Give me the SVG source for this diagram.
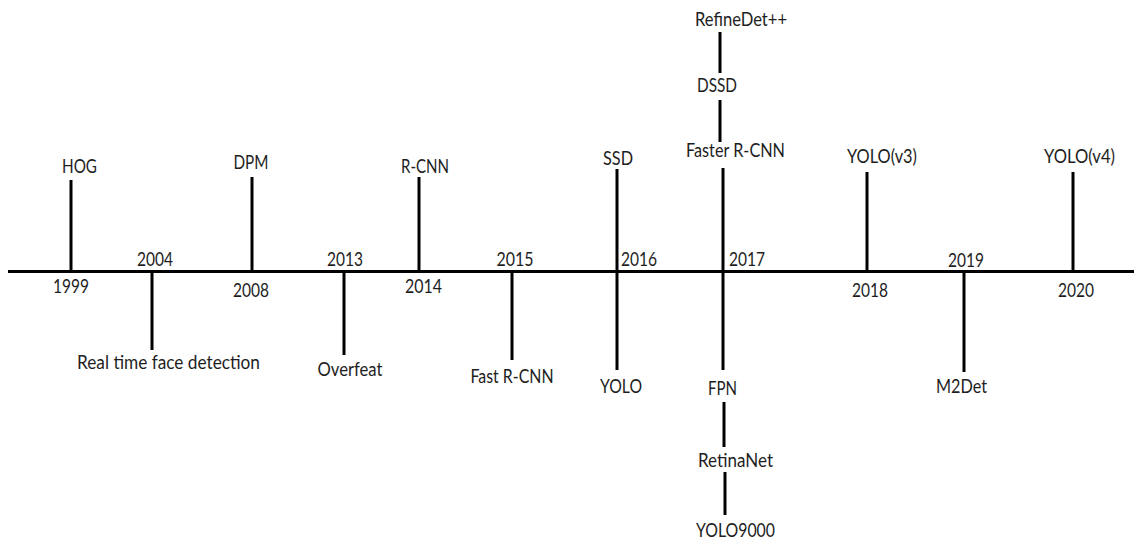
<svg xmlns="http://www.w3.org/2000/svg" width="1134" height="539" viewBox="0 0 1134 539">
  <style>
    .ln { stroke: #000; stroke-width: 3; fill: none; }
    text { font-family: Lato, "Liberation Sans", sans-serif; font-size: 18.5px; fill: #1e1e1e; text-anchor: middle; }
    .l { text-anchor: start; }
  </style>
  <rect width="1134" height="539" fill="#fff"/>

  <!-- axis and stems -->
  <g id="connectors">
    <line class="ln" x1="8" y1="271.5" x2="1134" y2="271.5"/>
    <line class="ln" x1="71" y1="180" x2="71" y2="272"/>
    <line class="ln" x1="152" y1="271" x2="152" y2="350"/>
    <line class="ln" x1="252" y1="177" x2="252" y2="272"/>
    <line class="ln" x1="344" y1="271" x2="344" y2="355"/>
    <line class="ln" x1="419" y1="177" x2="419" y2="272"/>
    <line class="ln" x1="512" y1="271" x2="512" y2="360"/>
    <line class="ln" x1="617" y1="169" x2="617" y2="370"/>
    <line class="ln" x1="720" y1="32" x2="720" y2="73"/>
    <line class="ln" x1="720" y1="100" x2="720" y2="142"/>
    <line class="ln" x1="723" y1="168" x2="723" y2="370"/>
    <line class="ln" x1="724" y1="402" x2="724" y2="447"/>
    <line class="ln" x1="725" y1="472" x2="725" y2="515"/>
    <line class="ln" x1="867" y1="172" x2="867" y2="272"/>
    <line class="ln" x1="964" y1="271" x2="964" y2="372"/>
    <line class="ln" x1="1073" y1="172" x2="1073" y2="272"/>
  </g>

  <g id="y1999">
    <text x="79.5" y="173" textLength="35" lengthAdjust="spacingAndGlyphs">HOG</text>
    <text x="71" y="293" textLength="36" lengthAdjust="spacingAndGlyphs">1999</text>
  </g>
  <g id="y2004">
    <text x="155" y="266" textLength="36" lengthAdjust="spacingAndGlyphs">2004</text>
    <text x="168.5" y="369" textLength="183" lengthAdjust="spacingAndGlyphs">Real time face detection</text>
  </g>
  <g id="y2008">
    <text x="251" y="169" textLength="35" lengthAdjust="spacingAndGlyphs">DPM</text>
    <text x="251" y="297" textLength="36" lengthAdjust="spacingAndGlyphs">2008</text>
  </g>
  <g id="y2013">
    <text x="345" y="266" textLength="36" lengthAdjust="spacingAndGlyphs">2013</text>
    <text x="350" y="375.5" textLength="65" lengthAdjust="spacingAndGlyphs">Overfeat</text>
  </g>
  <g id="y2014">
    <text x="425" y="173" textLength="48" lengthAdjust="spacingAndGlyphs">R-CNN</text>
    <text x="423.5" y="293" textLength="37" lengthAdjust="spacingAndGlyphs">2014</text>
  </g>
  <g id="y2015">
    <text x="515" y="266" textLength="37" lengthAdjust="spacingAndGlyphs">2015</text>
    <text x="512" y="383" textLength="83" lengthAdjust="spacingAndGlyphs">Fast R-CNN</text>
  </g>
  <g id="y2016">
    <text x="618" y="165" textLength="30" lengthAdjust="spacingAndGlyphs">SSD</text>
    <text class="l" x="621" y="266" textLength="36" lengthAdjust="spacingAndGlyphs">2016</text>
    <text x="621" y="393" textLength="42" lengthAdjust="spacingAndGlyphs">YOLO</text>
  </g>
  <g id="y2017">
    <text x="741" y="26" textLength="92" lengthAdjust="spacingAndGlyphs">RefineDet++</text>
    <text x="717" y="92" textLength="40" lengthAdjust="spacingAndGlyphs">DSSD</text>
    <text x="735.5" y="157" textLength="99" lengthAdjust="spacingAndGlyphs">Faster R-CNN</text>
    <text class="l" x="729" y="266" textLength="36" lengthAdjust="spacingAndGlyphs">2017</text>
    <text x="722.5" y="395" textLength="29" lengthAdjust="spacingAndGlyphs">FPN</text>
    <text x="735.5" y="467" textLength="75" lengthAdjust="spacingAndGlyphs">RetinaNet</text>
    <text x="735.5" y="537" textLength="79" lengthAdjust="spacingAndGlyphs">YOLO9000</text>
  </g>
  <g id="y2018">
    <text x="882" y="163" textLength="70" lengthAdjust="spacingAndGlyphs">YOLO(v3)</text>
    <text x="870" y="297" textLength="36" lengthAdjust="spacingAndGlyphs">2018</text>
  </g>
  <g id="y2019">
    <text x="966" y="267" textLength="36" lengthAdjust="spacingAndGlyphs">2019</text>
    <text x="961.5" y="393" textLength="51" lengthAdjust="spacingAndGlyphs">M2Det</text>
  </g>
  <g id="y2020">
    <text x="1079.5" y="163" textLength="71" lengthAdjust="spacingAndGlyphs">YOLO(v4)</text>
    <text x="1076" y="297" textLength="36" lengthAdjust="spacingAndGlyphs">2020</text>
  </g>
</svg>
